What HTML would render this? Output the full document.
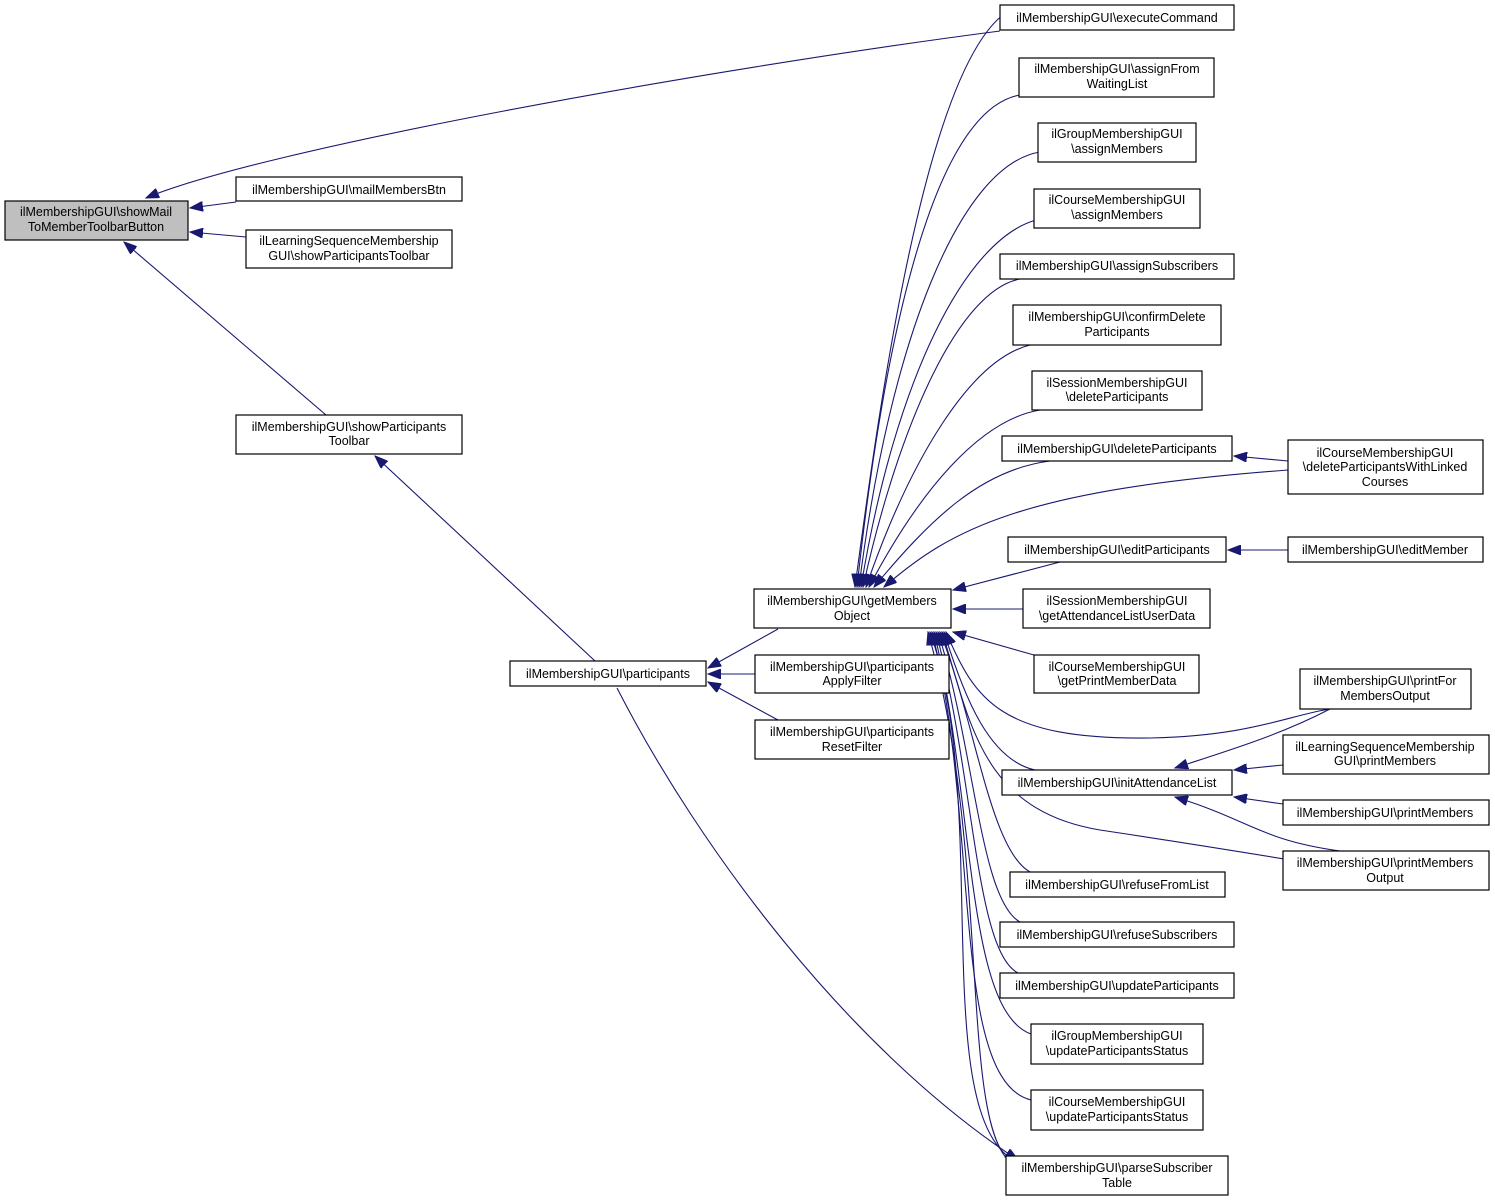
<!DOCTYPE html>
<html><head><meta charset="utf-8"><style>
html,body{margin:0;padding:0;background:#fff}
svg{display:block}
text{font-family:"Liberation Sans",Arial,sans-serif;font-size:12.5px;fill:#000;text-anchor:middle}
.b{fill:#fff;stroke:#000;stroke-width:1.2}
.g{fill:#bfbfbf;stroke:#000;stroke-width:1.2}
.e{fill:none;stroke:#191970;stroke-width:1.1}
</style></head><body>
<svg width="1495" height="1202" viewBox="0 0 1495 1202" xmlns="http://www.w3.org/2000/svg">
<defs>
<marker id="a" markerUnits="userSpaceOnUse" markerWidth="14" markerHeight="10" refX="13" refY="5" orient="auto-start-reverse">
<path d="M0,0 L13,5 L0,10 z" fill="#191970" stroke="#191970"/>
</marker>
</defs>
<g marker-start="url(#a)">
<path class="e" d="M146,198 C260,150 700,70 1000,31"/>
<path class="e" d="M190,208 L236,202"/>
<path class="e" d="M190,232 L246,237"/>
<path class="e" d="M124,242 L326,415"/>
<path class="e" d="M375,456 L595,661"/>
<path class="e" d="M708,668 L778,629"/>
<path class="e" d="M708,674 L755,674"/>
<path class="e" d="M708,682 L778,720"/>
<path class="e" d="M855,587 C880,400 930,30 1020,6"/>
<path class="e" d="M857,587 C885,330 935,110 1020,95"/>
<path class="e" d="M859,587 C890,340 960,165 1040,152"/>
<path class="e" d="M861,587 C895,380 965,240 1036,220"/>
<path class="e" d="M863,587 C900,420 960,290 1020,279"/>
<path class="e" d="M866,587 C910,460 970,360 1030,345"/>
<path class="e" d="M869,587 C920,490 980,420 1040,410"/>
<path class="e" d="M874,587 C930,520 980,470 1050,461"/>
<path class="e" d="M884,587 C950,530 1020,490 1288,470"/>
<path class="e" d="M953,590 L1060,562"/>
<path class="e" d="M953,609 L1023,609"/>
<path class="e" d="M953,632 L1034,655"/>
<path class="e" d="M946,632 C975,700 1000,740 1150,738 C1250,736 1290,715 1330,709"/>
<path class="e" d="M944,632 C965,700 990,760 1035,770"/>
<path class="e" d="M942,632 C970,720 980,810 1100,830 C1200,845 1260,855 1290,860"/>
<path class="e" d="M940,632 C975,720 990,850 1030,872"/>
<path class="e" d="M938,632 C975,750 980,900 1020,922"/>
<path class="e" d="M936,632 C975,780 975,950 1018,973"/>
<path class="e" d="M934,632 C975,800 965,1010 1031,1034"/>
<path class="e" d="M932,632 C980,820 950,1080 1031,1100"/>
<path class="e" d="M930,632 C990,800 930,1100 1010,1158"/>
<path class="e" d="M928,632 C990,850 960,1110 1008,1160"/>
<path class="e" d="M1234,456 L1288,461"/>
<path class="e" d="M1228,550 L1288,550"/>
<path class="e" d="M1175,768 C1230,750 1280,735 1330,709"/>
<path class="e" d="M1234,770 L1283,765"/>
<path class="e" d="M1234,797 L1283,804"/>
<path class="e" d="M1175,797 C1250,820 1260,840 1340,851"/>
</g>
<path class="e" marker-end="url(#a)" d="M617,688 C700,850 850,1050 1018,1160"/>

<rect class="g" x="5" y="201" width="183" height="39"/>
<text x="96" y="216">ilMembershipGUI\showMail</text><text x="96" y="231">ToMemberToolbarButton</text>
<rect class="b" x="1000" y="5" width="234" height="25"/><text x="1117" y="22">ilMembershipGUI\executeCommand</text>
<rect class="b" x="236" y="177" width="226" height="24"/><text x="349" y="194">ilMembershipGUI\mailMembersBtn</text>
<rect class="b" x="246" y="230" width="206" height="38"/><text x="349" y="245">ilLearningSequenceMembership</text><text x="349" y="260">GUI\showParticipantsToolbar</text>
<rect class="b" x="236" y="415" width="226" height="39"/><text x="349" y="431">ilMembershipGUI\showParticipants</text><text x="349" y="445">Toolbar</text>
<rect class="b" x="510" y="661" width="196" height="25"/><text x="608" y="678">ilMembershipGUI\participants</text>
<rect class="b" x="754" y="589" width="197" height="39"/><text x="852" y="605">ilMembershipGUI\getMembers</text><text x="852" y="620">Object</text>
<rect class="b" x="755" y="655" width="194" height="38"/><text x="852" y="671">ilMembershipGUI\participants</text><text x="852" y="685">ApplyFilter</text>
<rect class="b" x="755" y="720" width="194" height="39"/><text x="852" y="736">ilMembershipGUI\participants</text><text x="852" y="751">ResetFilter</text>

<rect class="b" x="1019" y="58" width="195" height="39"/><text x="1117" y="73">ilMembershipGUI\assignFrom</text><text x="1117" y="88">WaitingList</text>
<rect class="b" x="1038" y="123" width="158" height="39"/><text x="1117" y="138">ilGroupMembershipGUI</text><text x="1117" y="153">\assignMembers</text>
<rect class="b" x="1034" y="189" width="166" height="39"/><text x="1117" y="204">ilCourseMembershipGUI</text><text x="1117" y="219">\assignMembers</text>
<rect class="b" x="1000" y="254" width="234" height="25"/><text x="1117" y="270">ilMembershipGUI\assignSubscribers</text>
<rect class="b" x="1013" y="305" width="208" height="40"/><text x="1117" y="321">ilMembershipGUI\confirmDelete</text><text x="1117" y="336">Participants</text>
<rect class="b" x="1032" y="371" width="170" height="39"/><text x="1117" y="387">ilSessionMembershipGUI</text><text x="1117" y="401">\deleteParticipants</text>
<rect class="b" x="1002" y="436" width="230" height="25"/><text x="1117" y="453">ilMembershipGUI\deleteParticipants</text>
<rect class="b" x="1008" y="537" width="218" height="25"/><text x="1117" y="554">ilMembershipGUI\editParticipants</text>
<rect class="b" x="1023" y="589" width="187" height="39"/><text x="1117" y="605">ilSessionMembershipGUI</text><text x="1117" y="620">\getAttendanceListUserData</text>
<rect class="b" x="1034" y="655" width="165" height="38"/><text x="1117" y="671">ilCourseMembershipGUI</text><text x="1117" y="685">\getPrintMemberData</text>
<rect class="b" x="1002" y="770" width="230" height="25"/><text x="1117" y="787">ilMembershipGUI\initAttendanceList</text>
<rect class="b" x="1010" y="872" width="215" height="25"/><text x="1117" y="889">ilMembershipGUI\refuseFromList</text>
<rect class="b" x="1000" y="922" width="234" height="25"/><text x="1117" y="939">ilMembershipGUI\refuseSubscribers</text>
<rect class="b" x="1000" y="973" width="234" height="25"/><text x="1117" y="990">ilMembershipGUI\updateParticipants</text>
<rect class="b" x="1031" y="1024" width="172" height="40"/><text x="1117" y="1040">ilGroupMembershipGUI</text><text x="1117" y="1055">\updateParticipantsStatus</text>
<rect class="b" x="1031" y="1090" width="172" height="40"/><text x="1117" y="1106">ilCourseMembershipGUI</text><text x="1117" y="1121">\updateParticipantsStatus</text>
<rect class="b" x="1006" y="1156" width="222" height="39"/><text x="1117" y="1172">ilMembershipGUI\parseSubscriber</text><text x="1117" y="1187">Table</text>

<rect class="b" x="1288" y="440" width="195" height="54"/><text x="1385" y="457">ilCourseMembershipGUI</text><text x="1385" y="471">\deleteParticipantsWithLinked</text><text x="1385" y="486">Courses</text>
<rect class="b" x="1288" y="537" width="195" height="25"/><text x="1385" y="554">ilMembershipGUI\editMember</text>
<rect class="b" x="1300" y="669" width="171" height="40"/><text x="1385" y="685">ilMembershipGUI\printFor</text><text x="1385" y="700">MembersOutput</text>
<rect class="b" x="1283" y="735" width="206" height="39"/><text x="1385" y="751">ilLearningSequenceMembership</text><text x="1385" y="765">GUI\printMembers</text>
<rect class="b" x="1283" y="800" width="206" height="25"/><text x="1385" y="817">ilMembershipGUI\printMembers</text>
<rect class="b" x="1283" y="851" width="206" height="39"/><text x="1385" y="867">ilMembershipGUI\printMembers</text><text x="1385" y="882">Output</text>
</svg>
</body></html>
